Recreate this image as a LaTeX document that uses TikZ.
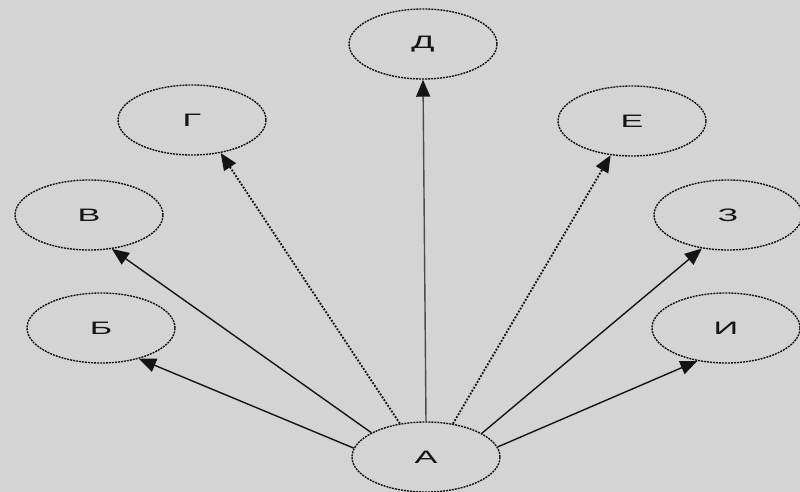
\documentclass[tikz,border=0pt]{standalone}
\usepackage{fontspec}
\setmainfont{Liberation Sans}
\usetikzlibrary{arrows.meta,shapes.geometric}
\definecolor{bgc}{RGB}{212,212,212}
\definecolor{ink}{RGB}{20,20,20}
\newcommand\wlab[1]{\scalebox{1.9}[1]{\fontsize{18}{18}\selectfont #1}}
\tikzset{
  vtx/.style={ellipse, draw=ink, line width=1.4pt, dash pattern=on 2pt off 1pt,
    minimum width=148pt, minimum height=70pt, inner sep=0pt, fill=bgc, text=ink},
  arr/.style={draw=ink, line width=1.4pt, -{Triangle[length=17pt,width=14pt,color=ink,fill=ink]}},
  darr/.style={arr, line width=1.9pt, dash pattern=on 1.8pt off 1.6pt},
  garr/.style={arr, draw=black!70}
}
\begin{document}
\begin{tikzpicture}[x=1pt,y=-1pt]
\fill[bgc] (0,0) rectangle (800,492);
\useasboundingbox (0,0) rectangle (800,492);
\node[vtx] (A) at (426,457) {\wlab{А}};
\node[vtx] (B) at (101,328) {\wlab{Б}};
\node[vtx] (V) at (89,215) {\wlab{В}};
\node[vtx] (G) at (192,120) {\wlab{Г}};
\node[vtx] (D) at (423,44) {\wlab{Д}};
\node[vtx] (E) at (632,121) {\wlab{Е}};
\node[vtx] (Z) at (728,215) {\wlab{З}};
\node[vtx] (I) at (726,328) {\wlab{И}};
\draw[arr] (A.173) -- (B.-39);
\draw[arr] (A.156) -- (V.-56);
\draw[darr] (A.128) -- (G.-49);
\draw[garr] (A.90) -- (D.-90);
\draw[darr] (A.51) -- (E.-122);
\draw[arr] (A.23) -- (Z.-128);
\draw[arr] (A.8) -- (I.-131);
\end{tikzpicture}
\end{document}
